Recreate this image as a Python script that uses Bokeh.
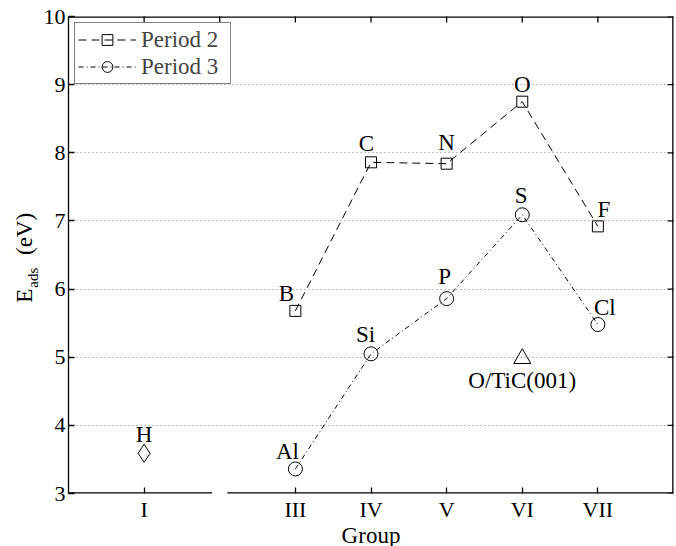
import math
from bokeh.plotting import figure
from bokeh.layouts import gridplot
from bokeh.models import (ColumnDataSource, FixedTicker, Range1d, Span, Legend, LegendItem)
from bokeh.core.properties import value
from bokeh.embed import file_html
from bokeh.resources import INLINE

# ---------------- data ----------------
groups_p2 = [3, 4, 5, 6, 7]
elements_p2 = ["B", "C", "N", "O", "F"]
eads_p2 = [5.68, 7.86, 7.84, 8.75, 6.92]

groups_p3 = [3, 4, 5, 6, 7]
elements_p3 = ["Al", "Si", "P", "S", "Cl"]
eads_p3 = [3.36, 5.05, 5.86, 7.09, 5.48]

h_group = [1]
h_element = ["H"]
h_eads = [3.59]

tic_group = [6]
tic_label = ["O/TiC(001)"]
tic_eads = [4.98]

group_ticks = [1, 3, 4, 5, 6, 7]
group_labels = ["I", "III", "IV", "V", "VI", "VII"]
top_ticks = [1, 2, 3, 4, 5, 6, 7]
y_ticks = [3, 4, 5, 6, 7, 8, 9, 10]

x_limits = (0, 8)
y_limits = (3, 10)
axis_break = (1.9, 2.1)

x_title = "Group"
# y-axis title pieces: text, font size, x (px in title strip), start along the y scale
ytitle_text = ["E", "ads", "(eV)"]
ytitle_size = ["23px", "15px", "23px"]
ytitle_x = [23.5, 32.5, 23.5]
ytitle_y = [5.80, 6.02, 6.50]

# label placement (screen px offsets from each marker)
label_dx = {"B": -9, "C": -4.5, "N": 0, "O": 0, "F": 6,
            "Al": -8, "Si": -5.5, "P": -2, "S": -1, "Cl": 7,
            "H": 0, "O/TiC(001)": 0}
label_dy = {"B": -17.8, "C": -18.8, "N": -21.5, "O": -17.2, "F": -16.5,
            "Al": -17.6, "Si": -19.8, "P": -22, "S": -19.3, "Cl": -17.5,
            "H": -18.8, "O/TiC(001)": 21.5}

FONT = "Liberation Serif"
FS = "22px"
FS_TEXT = "23px"
W, H = 676, 546
YLAB_W = 40
XLAB_H = 22
LEFT = 68 - YLAB_W
RIGHT = 3

p = figure(width=W - YLAB_W, height=H - XLAB_H, output_backend="svg", toolbar_location=None,
           x_range=Range1d(*x_limits), y_range=Range1d(*y_limits))

# ---------------- y-axis title strip (shares the y scale) ----------------
yl = figure(width=YLAB_W, height=H - XLAB_H, output_backend="svg", toolbar_location=None,
            x_range=Range1d(0, YLAB_W), y_range=p.y_range,
            x_axis_location=None, y_axis_location=None)
yl.min_border = 0
yl.min_border_top = 16
yl.min_border_bottom = 31
yl.outline_line_color = None
yl.grid.visible = False
ysrc = ColumnDataSource(dict(x=ytitle_x, y=ytitle_y, t=ytitle_text, fs=ytitle_size))
yl.text("x", "y", text="t", source=ysrc, angle=math.pi / 2,
        text_font=value(FONT), text_font_size="fs", text_color="black",
        text_align="left", text_baseline="middle")

# ---------------- x-axis title strip (shares the x scale) ----------------
xl = figure(width=W - YLAB_W, height=XLAB_H, output_backend="svg", toolbar_location=None,
            x_range=p.x_range, y_range=Range1d(0, XLAB_H),
            x_axis_location=None, y_axis_location=None)
xl.min_border = 0
xl.min_border_left = LEFT
xl.min_border_right = RIGHT
xl.outline_line_color = None
xl.grid.visible = False
xl.text(x=[sum(x_limits) / 2], y=[11.5], text=[x_title],
        text_font=value(FONT), text_font_size=FS_TEXT, text_color="black",
        text_align="center", text_baseline="middle")

# ---------------- main plot ----------------
p.min_border = 0
p.min_border_left = LEFT
p.min_border_right = RIGHT
p.min_border_top = 16
p.min_border_bottom = 31
p.outline_line_color = None
p.background_fill_color = "white"
p.border_fill_color = "white"

p.xgrid.visible = False
p.ygrid.ticker = FixedTicker(ticks=y_ticks)
p.ygrid.grid_line_color = "#808080"
p.ygrid.grid_line_dash = "1 3"
p.ygrid.grid_line_width = 1

AX_W = 1.3
TICK = 6

def style_axis(ax, ticks):
    ax.ticker = FixedTicker(ticks=ticks)
    ax.axis_line_color = "black"
    ax.axis_line_width = AX_W
    ax.major_tick_line_color = "black"
    ax.major_tick_line_width = AX_W
    ax.major_tick_in = TICK
    ax.major_tick_out = 0
    ax.minor_tick_line_color = None
    ax.major_label_text_font = FONT
    ax.major_label_text_font_size = FS
    ax.major_label_text_color = "black"
    ax.axis_label = None

xa = p.xaxis[0]
style_axis(xa, group_ticks)
xa.axis_line_color = None
xa.major_label_overrides = {t: s for t, s in zip(group_ticks, group_labels)}
xa.major_label_standoff = 3

ya = p.yaxis[0]
style_axis(ya, y_ticks)
ya.major_label_standoff = 3

# frame lines: bottom (with break), top, right (half of each line is clipped by the frame)
p.segment(x0=[x_limits[0], axis_break[1]], y0=[y_limits[0]] * 2,
          x1=[axis_break[0], x_limits[1]], y1=[y_limits[0]] * 2,
          line_color="black", line_width=2 * AX_W)
p.add_layout(Span(location=y_limits[1], dimension="width", line_color="black",
                  line_width=2 * AX_W))
p.add_layout(Span(location=x_limits[1], dimension="height", line_color="black",
                  line_width=2 * AX_W))
# inward ticks on top and right (half clipped)
p.scatter(x=top_ticks, y=[y_limits[1]] * len(top_ticks), marker="dash", angle=math.pi / 2,
          size=2 * TICK, line_color="black", line_width=AX_W)
p.scatter(x=[x_limits[1]] * len(y_ticks), y=y_ticks, marker="dash",
          size=2 * TICK, line_color="black", line_width=AX_W)

# series
def mk_src(xs, ys, els):
    return ColumnDataSource(dict(x=xs, y=ys, el=els,
                                 dx=[label_dx[e] for e in els],
                                 dy=[label_dy[e] for e in els]))

src2 = mk_src(groups_p2, eads_p2, elements_p2)
src3 = mk_src(groups_p3, eads_p3, elements_p3)
srch = mk_src(h_group, h_eads, h_element)
srct = mk_src(tic_group, tic_eads, tic_label)

l2 = p.line("x", "y", source=src2, line_color="black", line_width=1, line_dash="8 5")
m2 = p.scatter("x", "y", source=src2, marker="square", size=11,
               fill_color=None, line_color="black", line_width=1)
l3 = p.line("x", "y", source=src3, line_color="black", line_width=1, line_dash="5 3 1 3")
m3 = p.scatter("x", "y", source=src3, marker="circle", size=14,
               fill_color=None, line_color="black", line_width=1)
p.scatter("x", "y", source=srch, marker="diamond", size=18,
          fill_color=None, line_color="black", line_width=1)
p.scatter("x", "y", source=srct, marker="triangle", size=17,
          fill_color=None, line_color="black", line_width=1)

for s in (src2, src3, srch, srct):
    p.text("x", "y", text="el", source=s, x_offset="dx", y_offset="dy",
           text_font=value(FONT), text_font_size=FS_TEXT, text_color="black",
           text_align="center", text_baseline="middle")

legend = Legend(items=[LegendItem(label="Period 2", renderers=[l2, m2]),
                       LegendItem(label="Period 3", renderers=[l3, m3])],
                location="top_left", margin=6, padding=3, spacing=0,
                label_standoff=5, glyph_width=58, glyph_height=27,
                label_height=27, label_width=86,
                label_text_font=FONT, label_text_font_size="23px",
                border_line_color="black", border_line_width=1,
                background_fill_color="white", background_fill_alpha=1.0)
p.add_layout(legend, "center")

layout = gridplot([[yl, p], [None, xl]], toolbar_location=None)
open("out.html", "w").write(file_html(layout, INLINE))
